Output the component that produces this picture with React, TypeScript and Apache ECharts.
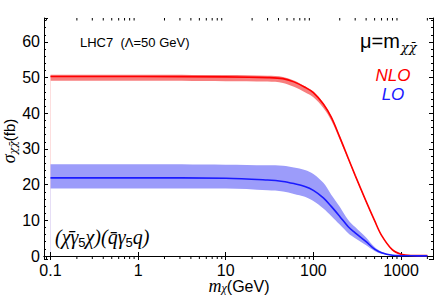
import React, { useEffect, useRef } from "react";
import * as echarts from "echarts";

// ---- data ----
const massGeV = [0.1, 1, 10, 30, 45, 60, 80, 100, 130, 160, 200, 250, 300, 400, 500, 600, 800, 1000, 1300, 2000];
const nloCentral = [50.3, 50.3, 50.2, 50.0, 49.7, 48.8, 47.3, 45.8, 42.6, 38.9, 33.3, 27.4, 22.6, 15.3, 9.9, 5.8, 1.7, 0.5, 0.15, 0.1];
const nloLow = [49.1, 49.1, 49.0, 48.9, 48.5, 47.4, 45.9, 44.5, 41.5, 38.0, 32.6, 26.9, 22.2, 15.0, 9.7, 5.7, 1.6, 0.45, 0.12, 0.08];
const nloHigh = [50.8, 50.8, 50.7, 50.5, 50.2, 49.2, 47.6, 46.1, 42.9, 39.2, 33.6, 27.6, 22.8, 15.5, 10.1, 5.9, 1.8, 0.55, 0.18, 0.12];
const loCentral = [21.9, 21.9, 21.8, 21.3, 20.9, 20.3, 19.5, 18.4, 16.3, 13.9, 11.1, 8.2, 6.5, 4.0, 1.9, 0.9, 0.2, 0.08, 0.05, 0.04];
const loLow = [18.9, 18.9, 18.9, 18.4, 18.1, 17.4, 16.6, 15.4, 13.3, 11.2, 8.8, 6.4, 5.0, 3.0, 1.4, 0.6, 0.12, 0.05, 0.03, 0.03];
const loHigh = [25.7, 25.7, 25.6, 25.4, 25.3, 24.8, 24.1, 23.0, 20.5, 17.2, 13.8, 10.1, 8.1, 5.2, 2.5, 1.2, 0.3, 0.12, 0.07, 0.06];

// axis ranges and minor tick positions on the log axis
const xRange = [0.0843, 2319];
const yRange = [-0.84, 66.7];
const minorMultipliers = [2, 3, 4, 5, 6, 7, 8, 9];
const minorDecades = [0.01, 0.1, 1, 10, 100, 1000];

const SANS = "'Liberation Sans', Arial, sans-serif";
const SERIF = "'Liberation Serif', 'Times New Roman', serif";
const MARKSERIF = "'DejaVu Serif', serif";

export default function App() {
  const ref = useRef<HTMLDivElement>(null);

  useEffect(() => {
    if (!ref.current) return;
    const chart = echarts.init(ref.current, undefined, { renderer: "svg" });

    const pairs = (ys: number[]) => massGeV.map((x, i) => [x, ys[i]]);

    const minorX: number[][] = [];
    minorDecades.forEach((d) =>
      minorMultipliers.forEach((m) => {
        const v = d * m;
        if (v > xRange[0] && v < xRange[1]) minorX.push([v, 0]);
      })
    );

    const isPow10 = (v: number) => {
      const l = Math.log10(v);
      return Math.abs(l - Math.round(l)) < 1e-6;
    };

    const xAxisBase = {
      type: "log" as const,
      logBase: 10,
      min: xRange[0],
      max: xRange[1],
      axisLine: { show: true, lineStyle: { color: "#000", width: 1 } },
      axisTick: { show: true, inside: true, length: 4, lineStyle: { color: "#000" } },
      splitLine: { show: false },
      minorTick: { show: false },
    };
    const yAxisBase = {
      type: "value" as const,
      min: yRange[0],
      max: yRange[1],
      minInterval: 10,
      maxInterval: 10,
      axisLine: { show: true, lineStyle: { color: "#000", width: 1 } },
      axisTick: { show: true, inside: true, length: 4, lineStyle: { color: "#000" } },
      minorTick: { show: true, splitNumber: 5, length: 2, lineStyle: { color: "#000" } },
      splitLine: { show: false },
    };

    const lineCommon = {
      type: "line" as const,
      showSymbol: false,
      symbol: "none",
      smooth: 0.35,
      silent: true,
    };
    // band = area under "high" in band colour, then area under "low" in white
    const bandPart = (name: string, ys: number[], color: string) => ({
      ...lineCommon,
      name,
      z: -1,
      data: pairs(ys),
      lineStyle: { width: 0, opacity: 0 },
      areaStyle: { color, opacity: 1, origin: "auto" },
    });

    chart.setOption({
      animation: false,
      grid: { left: 44, top: 18, right: 3, bottom: 43, containLabel: false },
      xAxis: [
        {
          ...xAxisBase,
          position: "bottom",
          axisLabel: {
            show: true,
            margin: 3,
            color: "#000",
            fontSize: 16,
            fontFamily: SANS,
            showMinLabel: false,
            showMaxLabel: false,
            formatter: (v: number) => (isPow10(v) ? String(+v.toPrecision(6)) : ""),
          },
        },
        { ...xAxisBase, position: "top", axisLabel: { show: false } },
      ],
      yAxis: [
        {
          ...yAxisBase,
          position: "left",
          axisLabel: {
            show: true,
            margin: 4,
            color: "#000",
            fontSize: 16,
            fontFamily: SANS,
            showMinLabel: false,
            showMaxLabel: false,
            formatter: (v: number) => (v >= 0 && Math.abs(v % 10) < 1e-9 ? String(v) : ""),
          },
        },
        { ...yAxisBase, position: "right", axisLabel: { show: false } },
      ],
      series: [
        bandPart("nloHigh", nloHigh, "#f77e7e"),
        bandPart("nloLow", nloLow, "#ffffff"),
        bandPart("loHigh", loHigh, "#9c9cfa"),
        bandPart("loLow", loLow, "#ffffff"),
        { ...lineCommon, name: "NLO", z: 3, data: pairs(nloCentral), lineStyle: { color: "#ff0000", width: 1.6 } },
        { ...lineCommon, name: "LO", z: 4, data: pairs(loCentral), lineStyle: { color: "#1a1aff", width: 1.6 } },
        // minor ticks of the log axis (bottom and top)
        {
          type: "custom",
          silent: true,
          clip: false,
          z: 10,
          data: minorX,
          encode: { x: 0, y: 1 },
          renderItem: (params: any, api: any) => {
            const p = api.coord([api.value(0), 0]);
            const cs = params.coordSys;
            const yb = cs.y + cs.height;
            return {
              type: "group",
              children: [
                { type: "line", shape: { x1: p[0], y1: yb, x2: p[0], y2: yb - 2.5 }, style: { stroke: "#000", lineWidth: 1 } },
                { type: "line", shape: { x1: p[0], y1: cs.y, x2: p[0], y2: cs.y + 2.5 }, style: { stroke: "#000", lineWidth: 1 } },
              ],
            };
          },
        },
      ],
      graphic: [
        {
          type: "text",
          x: 80,
          y: 42,
          style: {
            text: "LHC7  (Λ=50 GeV)",
            fontSize: 13,
            fontFamily: SANS,
            fill: "#000",
            align: "left",
            verticalAlign: "middle",
          },
        },
        {
          type: "text",
          x: 360,
          y: 41,
          style: {
            text: "{a|μ=m}{b|χχ̄}",
            align: "left",
            verticalAlign: "middle",
            rich: {
              a: { fontSize: 20, fontFamily: SANS, fill: "#000", lineHeight: 26, verticalAlign: "middle" },
              b: { fontSize: 13, fontFamily: MARKSERIF, fontStyle: "italic", fill: "#000", lineHeight: 14, verticalAlign: "bottom", padding: [6, 0, 0, 1] },
            },
          },
        },
        {
          type: "text",
          x: 393,
          y: 75,
          style: {
            text: "NLO",
            fontSize: 17,
            fontStyle: "italic",
            fontFamily: SANS,
            fill: "#ff0000",
            align: "center",
            verticalAlign: "middle",
          },
        },
        {
          type: "text",
          x: 393,
          y: 94,
          style: {
            text: "LO",
            fontSize: 17,
            fontStyle: "italic",
            fontFamily: SANS,
            fill: "#1a1aff",
            align: "center",
            verticalAlign: "middle",
          },
        },
        {
          type: "text",
          x: 55,
          y: 237,
          style: {
            text: "{a|(χ̄γ}{s|5}{a|χ)(q̄γ}{s|5}{a|q)}",
            align: "left",
            verticalAlign: "middle",
            rich: {
              a: { fontSize: 20, fontFamily: SERIF, fontStyle: "italic", fill: "#000", lineHeight: 24, verticalAlign: "middle" },
              s: { fontSize: 13, fontFamily: SANS, fill: "#000", lineHeight: 13, verticalAlign: "bottom", padding: [4, 0, 0, 0] },
            },
          },
        },
        {
          type: "text",
          x: 239,
          y: 286,
          style: {
            text: "{m|m}{s|χ}{a|(GeV)}",
            align: "center",
            verticalAlign: "middle",
            rich: {
              m: { fontSize: 18, fontFamily: SERIF, fontStyle: "italic", fill: "#000", lineHeight: 16, verticalAlign: "middle" },
              s: { fontSize: 12, fontFamily: SERIF, fontStyle: "italic", fill: "#000", lineHeight: 10, verticalAlign: "bottom", padding: [4, 0, 0, 0] },
              a: { fontSize: 16, fontFamily: SANS, fill: "#000", lineHeight: 16, verticalAlign: "middle" },
            },
          },
        },
        {
          type: "text",
          x: 9,
          y: 141,
          rotation: Math.PI / 2,
          style: {
            text: "{m|σ}{s|χχ̄}{a|(fb)}",
            align: "center",
            verticalAlign: "middle",
            rich: {
              m: { fontSize: 18, fontFamily: SERIF, fontStyle: "italic", fill: "#000", lineHeight: 20, verticalAlign: "middle" },
              s: { fontSize: 11, fontFamily: MARKSERIF, fontStyle: "italic", fill: "#000", lineHeight: 12, verticalAlign: "bottom", padding: [5, 0, 0, 0] },
              a: { fontSize: 15, fontFamily: SANS, fill: "#000", lineHeight: 20, verticalAlign: "middle" },
            },
          },
        },
      ],
    });

    return () => chart.dispose();
  }, []);

  return (
    <div
      ref={ref}
      style={{ position: "fixed", left: 0, top: 0, width: 436, height: 302, background: "#fff" }}
    />
  );
}
